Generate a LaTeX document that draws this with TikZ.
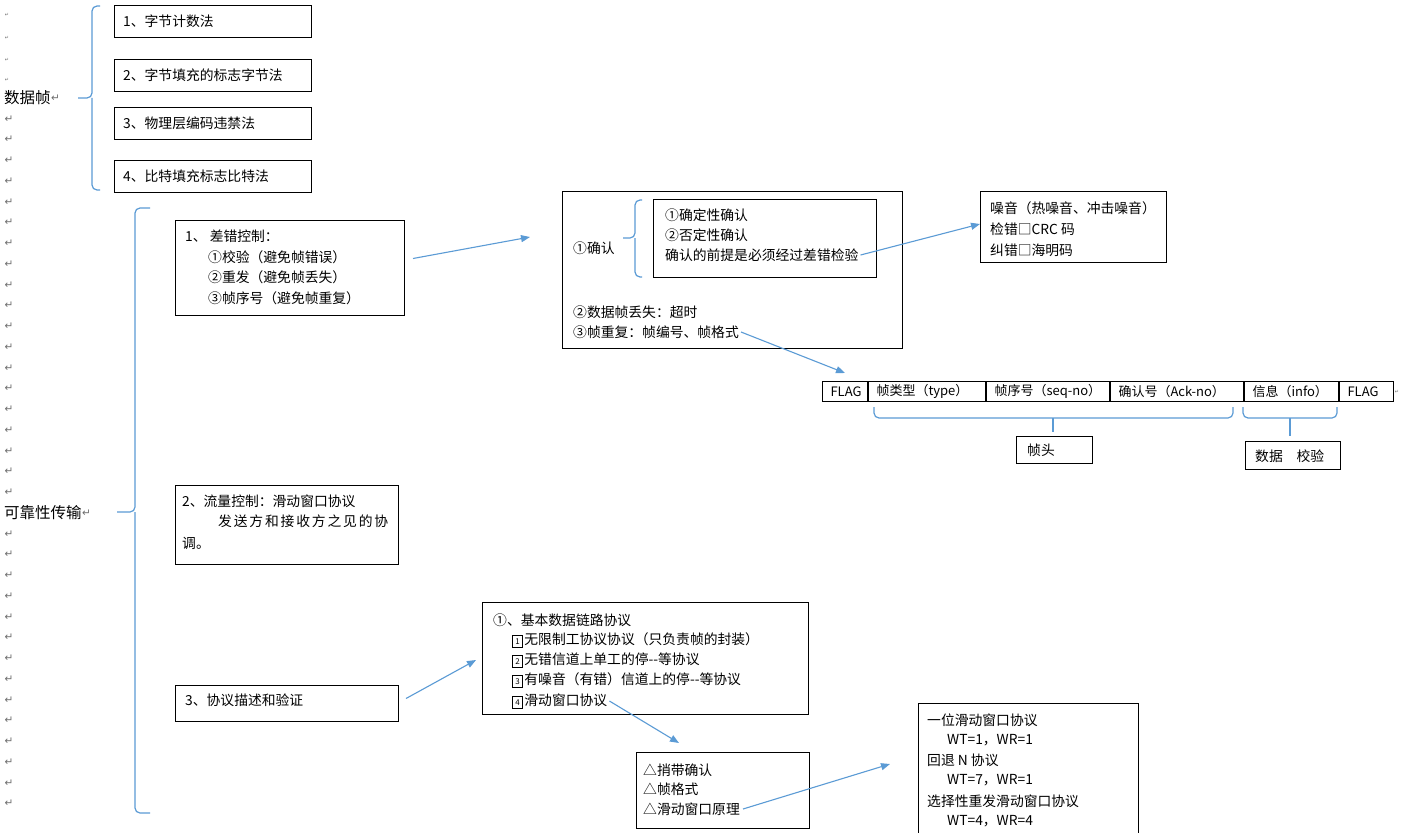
\documentclass[tikz,border=0pt]{standalone}
\usepackage{fontspec}
\newfontfamily\cjk{Noto Sans CJK SC}
\newfontfamily\dejavu{DejaVu Sans}
\usetikzlibrary{arrows.meta}
\definecolor{wordblue}{RGB}{91,155,213}
\definecolor{markgray}{RGB}{110,110,110}
\newcommand{\boxnum}[1]{{\fboxsep=1pt\fboxrule=0.6pt\raisebox{-0.5pt}{\fbox{\makebox[7.5pt]{\rule[-1.5pt]{0pt}{9.5pt}\fontsize{8}{8}\selectfont #1}}}\hspace{1.5pt}}}

\tikzset{
  box/.style={draw, line width=1pt, anchor=north west, inner sep=0pt},
  txt/.style={anchor=west, inner sep=0pt, font=\cjk\fontsize{13.8}{16}\selectfont},
  headtxt/.style={anchor=west, inner sep=0pt, font=\cjk\fontsize{15.5}{18}\selectfont},
  cell/.style={draw, line width=1pt, anchor=north west, minimum height=20pt, inner xsep=8pt, inner ysep=0pt, align=left, font=\cjk\fontsize{13}{15}\selectfont},
  retmark/.style={text=markgray, inner sep=0pt, font=\dejavu\fontsize{10.5}{10.5}\selectfont},
  bluebrace/.style={draw=wordblue, line width=1.2pt, rounded corners=5pt},
  link/.style={draw=wordblue, line width=1.1pt, -{Triangle[length=9pt,width=7pt]}}
}

\begin{document}
\begin{tikzpicture}[x=1pt,y=-1pt]
\useasboundingbox (0,0) rectangle (1404,832);
\fill[white] (0,0) rectangle (1404,832);

% paragraph marks down the left margin
\foreach \y [count=\i] in {15,38,60,80} {\node[retmark, font=\dejavu\fontsize{5}{5}\selectfont] (dot\i) at (7,\y) {↵};}
\foreach \k in {1,2,...,19,21,22,...,34} {\node[retmark] (ret\k) at (9,{98+20.75*\k}) {↵};}

% data frame group
\node[headtxt] (dataframe) at (4,98) {数据帧};
\node[retmark, anchor=west] (dataret) at (dataframe.east) {↵};
\draw[bluebrace] (100,6) -- (92,6) -- (92,98) -- (78,98);
\draw[bluebrace] (100,190) -- (92,190) -- (92,98);
\foreach \y/\t [count=\i] in {5/1、字节计数法, 59/2、字节填充的标志字节法, 107/3、物理层编码违禁法, 160/4、比特填充标志比特法} {
  \node[box, minimum width=197pt, minimum height=32pt] (method\i) at (114,\y) {};
  \node[txt] (methodtxt\i) at (123,\y+16) {\t};
}

% reliable transfer group
\node[headtxt] (reliable) at (4,513) {可靠性传输};
\node[retmark, anchor=west] (reliableret) at (reliable.east) {↵};
\draw[bluebrace] (150,208) -- (135,208) -- (135,512) -- (117,512);
\draw[bluebrace] (150,813) -- (135,813) -- (135,512);

% error control
\node[box, minimum width=229pt, minimum height=95pt] (errctrl) at (175,220) {};
\node[txt] (err1) at (185,236) {1、 差错控制：};
\node[txt] (err2) at (208,257) {①校验（避免帧错误）};
\node[txt] (err3) at (208,277) {②重发（避免帧丢失）};
\node[txt] (err4) at (208,298) {③帧序号（避免帧重复）};

% acknowledgement box
\node[box, minimum width=340pt, minimum height=157pt] (ackbox) at (562,191) {};
\node[txt] (ack1) at (573,248) {①确认};
\node[txt] (ack2) at (573,312) {②数据帧丢失：超时};
\node[txt] (ack3) at (573,332) {③帧重复：帧编号、帧格式};
\draw[bluebrace] (642,200) -- (635,200) -- (635,238) -- (623,238);
\draw[bluebrace] (642,277) -- (635,277) -- (635,238);
\node[box, minimum width=223pt, minimum height=78pt] (ackinner) at (653,199) {};
\node[txt] (inner1) at (665,215) {①确定性确认};
\node[txt] (inner2) at (665,235) {②否定性确认};
\node[txt] (inner3) at (665,255) {确认的前提是必须经过差错检验};

% noise box
\node[box, minimum width=186pt, minimum height=71pt] (noise) at (980,191) {};
\node[txt] (noise1) at (990,208) {噪音（热噪音、冲击噪音）};
\node[txt] (noise2) at (990,229) {检错□CRC 码};
\node[txt] (noise3) at (990,250) {纠错□海明码};

% frame format
\node[cell, text width=29pt] (flagA) at (822,381) {FLAG};
\node[cell, text width=101pt] (ftype) at (flagA.north east) {帧类型（type）};
\node[cell, text width=107pt] (fseq) at (ftype.north east) {帧序号（seq-no）};
\node[cell, text width=117pt] (fack) at (fseq.north east) {确认号（Ack-no）};
\node[cell, text width=78pt] (finfo) at (fack.north east) {信息（info）};
\node[cell, text width=38pt] (flagB) at (finfo.north east) {FLAG};
\node[retmark, font=\dejavu\fontsize{5}{5}\selectfont] (rowret) at (1397,392) {↵};
\draw[bluebrace] (874,407) -- (874,418) -- (1233,418) -- (1233,407);
\draw[bluebrace] (1053,418) -- (1053,432);
\draw[bluebrace] (1243,407) -- (1243,418) -- (1337,418) -- (1337,407);
\draw[bluebrace] (1290,418) -- (1290,436);
\node[box, minimum width=76pt, minimum height=27pt] (fhead) at (1016,436) {};
\node[txt] (fheadtxt) at (1027,450) {帧头};
\node[box, minimum width=95pt, minimum height=28pt] (fcheck) at (1245,441) {};
\node[txt] (fchecktxt) at (1255,456) {数据\quad 校验};

% flow control
\node[box, minimum width=223pt, minimum height=79pt] (flowctrl) at (175,485) {};
\node[txt] (flow1) at (182,501) {2、流量控制：滑动窗口协议};
\node[txt] (flow2) at (218,521) {\makebox[170pt]{发\hfill 送\hfill 方\hfill 和\hfill 接\hfill 收\hfill 方\hfill 之\hfill 见\hfill 的\hfill 协}};
\node[txt] (flow3) at (182,543) {调。};

% protocols
\node[box, minimum width=223pt, minimum height=36pt] (protocol) at (175,685) {};
\node[txt] (protocoltxt) at (185,700) {3、协议描述和验证};
\node[box, minimum width=326pt, minimum height=112pt] (basic) at (482,602) {};
\node[txt] (basic0) at (493,620) {①、基本数据链路协议};
\node[txt] (basic1) at (512,640) {\boxnum{1}无限制工协议协议（只负责帧的封装）};
\node[txt] (basic2) at (512,660) {\boxnum{2}无错信道上单工的停--等协议};
\node[txt] (basic3) at (512,680) {\boxnum{3}有噪音（有错）信道上的停--等协议};
\node[txt] (basic4) at (512,701) {\boxnum{4}滑动窗口协议};
\node[box, minimum width=173pt, minimum height=76pt] (window) at (636,752) {};
\node[txt] (window1) at (643,770) {△捎带确认};
\node[txt] (window2) at (643,789) {△帧格式};
\node[txt] (window3) at (643,809) {△滑动窗口原理};
\node[box, minimum width=220pt, minimum height=140pt] (kinds) at (918,703) {};
\node[txt] (kinds1) at (927,720) {一位滑动窗口协议};
\node[txt] (kinds2) at (947,740) {WT=1，WR=1};
\node[txt] (kinds3) at (927,760) {回退 N 协议};
\node[txt] (kinds4) at (947,780) {WT=7，WR=1};
\node[txt] (kinds5) at (927,801) {选择性重发滑动窗口协议};
\node[txt] (kinds6) at (947,821) {WT=4，WR=4};

% arrows
\coordinate (toack) at (530,237);
\coordinate (tonoise) at (980,224);
\coordinate (torow) at (845,373);
\coordinate (tobasic) at (476,660);
\coordinate (towindow) at (679,743);
\coordinate (tokinds) at (890,764);
\draw[link] ([xshift=8pt,yshift=9.5pt]errctrl.east) -- (toack);
\draw[link] ([xshift=2pt]inner3.east) -- (tonoise);
\draw[link] ([xshift=2pt]ack3.east) -- (torow);
\draw[link] ([xshift=7pt,yshift=5pt]protocol.east) -- (tobasic);
\draw[link] ([xshift=2pt]basic4.east) -- (towindow);
\draw[link] ([xshift=3pt]window3.east) -- (tokinds);
\end{tikzpicture}
\end{document}
